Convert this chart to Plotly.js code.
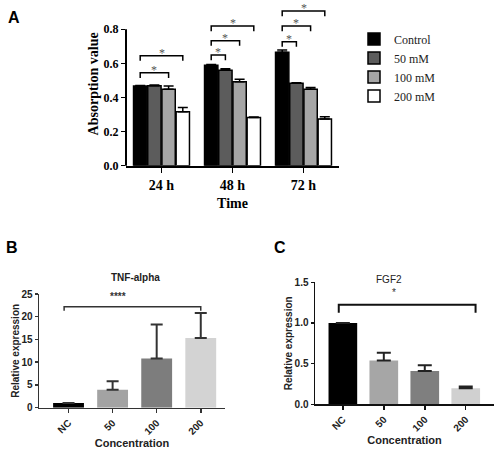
<!DOCTYPE html>
<html>
<head>
<meta charset="utf-8">
<script src="https://cdn.plot.ly/plotly-3.0.1.min.js"></script>
<style>html,body{margin:0;padding:0;background:#fff;}#chart{width:500px;height:452px;}</style>
</head>
<body>
<div id="chart"></div>
<script>
// ---- Panel A data ----
const timeCats = ["24 h", "48 h", "72 h"];
const groupNames = ["Control", "50 mM", "100 mM", "200 mM"];
const controlVals = [0.467, 0.589, 0.665];
const mM50Vals = [0.469, 0.560, 0.483];
const mM100Vals = [0.448, 0.493, 0.448];
const mM200Vals = [0.317, 0.282, 0.274];
const controlErr = [0.003, 0.004, 0.014];
const mM50Err = [0.004, 0.009, 0.004];
const mM100Err = [0.019, 0.014, 0.011];
const mM200Err = [0.024, 0.004, 0.013];
const aTickVals = [0, 0.2, 0.4, 0.6, 0.8];
// significance brackets in A: [category index, from group, to group, height]
const aBrackets = [
  [0, 0, 2, 0.545], [0, 0, 3, 0.645],
  [1, 0, 1, 0.649], [1, 0, 2, 0.733], [1, 0, 3, 0.819],
  [2, 0, 1, 0.727], [2, 0, 2, 0.819], [2, 0, 3, 0.907]
];

// ---- Panel B data ----
const concCats = ["NC", "50", "100", "200"];
const tnfVals = [1.03, 3.96, 10.8, 15.3];
const tnfErr = [0.0, 1.85, 7.5, 5.5];
const tnfSig = "****";
const tnfBracketY = 22.2;

// ---- Panel C data ----
const fgfVals = [1.0, 0.539, 0.41, 0.196];
const fgfErr = [0.0, 0.094, 0.07, 0.024];
const fgfSig = "*";
const fgfBracketY = 1.225;

const serif = "Liberation Serif, Times New Roman, serif";
const sans = "Liberation Sans, Arial, sans-serif";

const aColors = ["#000000", "#5c5c5c", "#a6a6a6", "#ffffff"];
const aVals = [controlVals, mM50Vals, mM100Vals, mM200Vals];
const aErrs = [controlErr, mM50Err, mM100Err, mM200Err];

const traces = [];
for (let i = 0; i < 4; i++) {
  traces.push({
    type: "bar", x: timeCats, y: aVals[i], name: groupNames[i],
    xaxis: "x", yaxis: "y",
    marker: {color: aColors[i], line: {color: "#000", width: 1.5}},
    error_y: {type: "data", array: aErrs[i], arrayminus: aErrs[i].map(() => 0), symmetric: false,
      color: "#000", thickness: 1.5, width: 5}
  });
}
traces.push({
  type: "bar", x: concCats, y: tnfVals, xaxis: "x2", yaxis: "y2", showlegend: false, width: 0.7,
  marker: {color: ["#000000", "#a3a3a3", "#7d7d7d", "#d3d3d3"]},
  error_y: {type: "data", array: tnfErr, arrayminus: tnfErr.map(() => 0), symmetric: false,
    color: "#333", thickness: 2, width: 6}
});
traces.push({
  type: "bar", x: concCats, y: fgfVals, xaxis: "x3", yaxis: "y3", showlegend: false, width: 0.7,
  marker: {color: ["#000000", "#a6a6a6", "#7f7f7f", "#d0d0d0"]},
  error_y: {type: "data", array: fgfErr, arrayminus: fgfErr.map(() => 0), symmetric: false,
    color: "#222", thickness: 2, width: 7}
});

// layout geometry (pixels of the 500x452 page)
const W = 500, H = 452;
const aLeft = 126, aRight = 339, aBottom = 165.7, aTop = 2, aMax = 0.96, aAxisTop = 0.8;
const aPxPerUnit = (aBottom - aTop) / aMax;

const shapes = [];
const annotations = [];
// A: y-axis line that stops at 0.8
shapes.push({type: "line", xref: "paper", yref: "paper", x0: aLeft / W, x1: aLeft / W,
  y0: 1 - aBottom / H, y1: 1 - (aBottom - aAxisTop * aPxPerUnit) / H,
  line: {color: "#000", width: 2}});
const slotOff = [-0.3, -0.1, 0.1, 0.3];
const tickA = 0.03;
aBrackets.forEach(b => {
  const x0 = b[0] + slotOff[b[1]], x1 = b[0] + slotOff[b[2]], y = b[3];
  shapes.push({type: "path", xref: "x", yref: "y",
    path: `M ${x0} ${y - tickA} L ${x0} ${y} L ${x1} ${y} L ${x1} ${y - tickA}`,
    line: {color: "#000", width: 1.5}});
  annotations.push({xref: "x", yref: "y", x: (x0 + x1) / 2, y: y, yanchor: "middle", xanchor: "center", yshift: 3,
    text: "*", showarrow: false, font: {family: serif, size: 12, color: "#555"}});
});
// B bracket
shapes.push({type: "path", xref: "x2", yref: "y2",
  path: `M -0.1 21.3 L -0.1 ${tnfBracketY} L 3.0 ${tnfBracketY} L 3.0 21.3`,
  line: {color: "#333", width: 1.5}});
annotations.push({xref: "x2", yref: "y2", x: 1.12, y: 24.4, yanchor: "middle", xanchor: "center", text: tnfSig,
  showarrow: false, font: {family: sans, size: 10, color: "#333", weight: "bold"}});
// C bracket
shapes.push({type: "path", xref: "x3", yref: "y3",
  path: `M -0.1 1.127 L -0.1 ${fgfBracketY} L 3.24 ${fgfBracketY} L 3.24 1.127`,
  line: {color: "#111", width: 2}});
annotations.push({xref: "x3", yref: "y3", x: 1.25, y: 1.37, yanchor: "middle", xanchor: "center", text: fgfSig,
  showarrow: false, font: {family: sans, size: 10, color: "#333"}});

// panel letters and titles
function label(x, y, text, font) {
  annotations.push({xref: "paper", yref: "paper", x: x / W, y: 1 - y / H, xanchor: "center", yanchor: "middle",
    text: text, showarrow: false, font: font});
}
label(14, 18, "A", {family: sans, size: 16, color: "#000", weight: "bold"});
label(12, 247, "B", {family: sans, size: 16, color: "#000", weight: "bold"});
label(280, 247, "C", {family: sans, size: 16, color: "#000", weight: "bold"});
label(135, 277, "TNF-alpha", {family: sans, size: 10, color: "#222", weight: "bold"});
label(389, 279, "FGF2", {family: sans, size: 10, color: "#222"});

const layout = {
  width: W, height: H,
  margin: {l: 0, r: 0, t: 0, b: 0},
  paper_bgcolor: "#fff", plot_bgcolor: "rgba(0,0,0,0)",
  barmode: "group", bargap: 0.2, bargroupgap: 0.06,
  showlegend: true,
  legend: {x: 0.708, y: 0.946, xanchor: "left", yanchor: "top", tracegroupgap: 0,
    font: {family: serif, size: 12, color: "#222"}, bgcolor: "rgba(0,0,0,0)"},
  xaxis: {domain: [aLeft / W, aRight / W], range: [-0.5, 2.5], type: "category", automargin: false,
    showline: true, linecolor: "#000", linewidth: 2, ticks: "outside", ticklen: 5, tickwidth: 1.5, tickcolor: "#000",
    showgrid: false, zeroline: false,
    tickfont: {family: serif, size: 14, color: "#000", weight: "bold"},
    title: {text: "Time", standoff: 7, font: {family: serif, size: 14, color: "#000", weight: "bold"}}},
  yaxis: {domain: [1 - aBottom / H, 1 - aTop / H], range: [0, aMax], automargin: false,
    showline: false, ticks: "outside", ticklen: 4, tickwidth: 1.5, tickcolor: "#000",
    tickvals: aTickVals, tickformat: ".1f", showgrid: false, zeroline: false,
    tickfont: {family: serif, size: 12, color: "#000", weight: "bold"},
    title: {text: "Absorption value", standoff: 1, font: {family: serif, size: 14, color: "#000", weight: "bold"}}},
  xaxis2: {domain: [39 / W, 225 / W], range: [-0.67, 3.55], type: "category", anchor: "y2", automargin: false,
    showline: true, linecolor: "#333", linewidth: 1.5, ticks: "outside", ticklen: 4, tickwidth: 1.5, tickcolor: "#333",
    tickangle: -45, showgrid: false, zeroline: false,
    tickfont: {family: sans, size: 10, color: "#222", weight: "bold"},
    title: {text: "Concentration", standoff: 3, font: {family: sans, size: 11, color: "#222", weight: "bold"}}},
  yaxis2: {domain: [1 - 407.7 / H, 1 - 294 / H], range: [0, 25], anchor: "x2", automargin: false,
    showline: true, linecolor: "#333", linewidth: 1.5, ticks: "outside", ticklen: 3, tickwidth: 1.5, tickcolor: "#333",
    dtick: 5, showgrid: false, zeroline: false,
    tickfont: {family: sans, size: 10, color: "#222", weight: "bold"},
    title: {text: "Relative expression", standoff: 0, font: {family: sans, size: 10, color: "#222", weight: "bold"}}},
  xaxis3: {domain: [315 / W, 494 / W], range: [-0.68, 3.69], type: "category", anchor: "y3", automargin: false,
    showline: true, linecolor: "#111", linewidth: 1.5, ticks: "outside", ticklen: 4, tickwidth: 1.5, tickcolor: "#111",
    tickangle: -45, showgrid: false, zeroline: false,
    tickfont: {family: sans, size: 10, color: "#222", weight: "bold"},
    title: {text: "Concentration", standoff: 4, font: {family: sans, size: 11, color: "#222", weight: "bold"}}},
  yaxis3: {domain: [1 - 404.3 / H, 1 - 282.3 / H], range: [0, 1.5], anchor: "x3", automargin: false,
    showline: true, linecolor: "#111", linewidth: 1.5, ticks: "outside", ticklen: 3, tickwidth: 1.5, tickcolor: "#111",
    dtick: 0.5, tickformat: ".1f", showgrid: false, zeroline: false,
    tickfont: {family: sans, size: 10, color: "#222", weight: "bold"},
    title: {text: "Relative expression", standoff: 0, font: {family: sans, size: 10, color: "#222", weight: "bold"}}},
  shapes: shapes,
  annotations: annotations
};

Plotly.newPlot("chart", traces, layout, {displayModeBar: false, staticPlot: true});
</script>
</body>
</html>
